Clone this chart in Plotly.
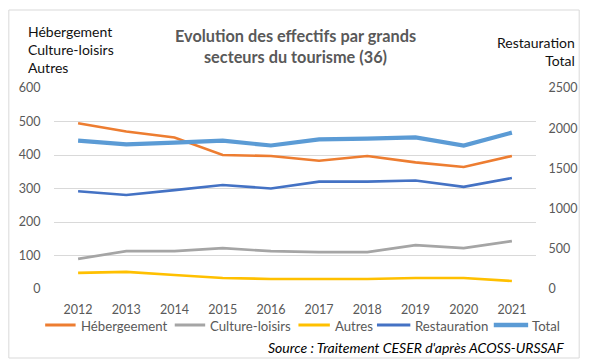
import plotly.graph_objects as go

years = ["2012", "2013", "2014", "2015", "2016", "2017", "2018", "2019", "2020", "2021"]

# left axis series
hebergement = [495, 470, 452, 400, 397, 383, 397, 378, 364, 397]
culture_loisirs = [90, 113, 113, 122, 113, 110, 110, 131, 122, 143]
autres = [48, 51, 42, 33, 30, 30, 30, 33, 33, 24]

# right axis series
restauration = [1215, 1170, 1230, 1294, 1250, 1335, 1335, 1350, 1270, 1380]
total = [1845, 1800, 1820, 1845, 1785, 1860, 1870, 1885, 1785, 1945]

names = ["Hébergeement", "Culture-loisirs", "Autres", "Restauration", "Total"]
colors = ["#ED7D31", "#A5A5A5", "#FFC000", "#4472C4", "#5B9BD5"]
widths = [2.6, 2.6, 2.6, 2.6, 4.2]
axes = ["y", "y", "y", "y2", "y2"]
series = [hebergement, culture_loisirs, autres, restauration, total]

W, H = 590, 359
L, R, T, B = 54, 45, 88, 70
PW, PH = W - L - R, H - T - B


def px(x):
    return (x - L) / PW


def py(y):
    return (H - B - y) / PH


FONT = "Lato, Liberation Sans, sans-serif"
GRAY = "#595959"

fig = go.Figure()
for name, vals, col, w, ax in zip(names, series, colors, widths, axes):
    fig.add_trace(go.Scatter(x=years, y=vals, name=name, mode="lines",
                             line=dict(color=col, width=w), yaxis=ax, showlegend=False))

fig.update_layout(
    width=W, height=H,
    margin=dict(l=L, r=R, t=T, b=B, pad=0),
    paper_bgcolor="white", plot_bgcolor="white",
    font=dict(family=FONT, size=12, color=GRAY),
    xaxis=dict(type="category", range=[-0.5, 9.5], showgrid=False, showline=False,
               ticks="outside", ticklen=9, tickcolor="rgba(0,0,0,0)",
               tickfont=dict(size=12.5, color=GRAY)),
    yaxis=dict(range=[0, 600], dtick=100, showgrid=True, gridcolor="#D9D9D9", gridwidth=1,
               zeroline=False, showline=False, ticks="outside", ticklen=10,
               tickcolor="rgba(0,0,0,0)", tickfont=dict(size=12.5, color=GRAY)),
    yaxis2=dict(range=[0, 2500], dtick=500, overlaying="y", side="right", showgrid=False,
                zeroline=False, showline=False, ticks="outside", ticklen=9,
                tickcolor="rgba(0,0,0,0)", tickfont=dict(size=12.5, color=GRAY)),
    showlegend=False,
)

# chart frame
fig.add_shape(type="rect", xref="paper", yref="paper",
              x0=px(8), x1=px(589), y0=py(358), y1=py(10),
              line=dict(color="#D9D9D9", width=1), fillcolor="rgba(0,0,0,0)", layer="below")

# legend row: line sample followed by its label
legend_slots = [(45, 76, 79), (177, 208, 211), (303, 335, 338), (383, 417, 420), (502, 537, 539)]
LEG_Y = 325
for (x0, x1, xt), name, col, w in zip(legend_slots, names, colors, widths):
    fig.add_shape(type="line", xref="paper", yref="paper",
                  x0=px(x0), x1=px(x1), y0=py(LEG_Y), y1=py(LEG_Y),
                  line=dict(color=col, width=w + 0.4))
    fig.add_annotation(xref="paper", yref="paper", x=px(xt), y=py(LEG_Y + 0.5),
                       xanchor="left", yanchor="middle", showarrow=False, text=name,
                       font=dict(family=FONT, size=13.2, color=GRAY))

# title
fig.add_annotation(xref="paper", yref="paper", x=px(300), y=py(45.5), xanchor="center",
                   yanchor="middle", showarrow=False, align="center",
                   text="<b>Evolution des effectifs par grands<br>secteurs du tourisme (36)</b>",
                   font=dict(family=FONT, size=16.3, color=GRAY))

# axis headers
fig.add_annotation(xref="paper", yref="paper", x=px(25), y=py(49), xanchor="left",
                   yanchor="middle", showarrow=False, align="left",
                   text="Hébergement<br>Culture-loisirs<br>Autres",
                   font=dict(family=FONT, size=14, color="#111111"))
fig.add_annotation(xref="paper", yref="paper", x=px(587), y=py(52), xanchor="right",
                   yanchor="middle", showarrow=False, align="right",
                   text="Restauration<br>Total",
                   font=dict(family=FONT, size=14, color="#111111"))

# source note
fig.add_annotation(xref="paper", yref="paper", x=px(576), y=py(347), xanchor="right",
                   yanchor="middle", showarrow=False,
                   text="<i>Source : Traitement CESER d'après ACOSS-URSSAF</i>",
                   font=dict(family=FONT, size=14, color="#000000"))

fig.write_html("out.html")
